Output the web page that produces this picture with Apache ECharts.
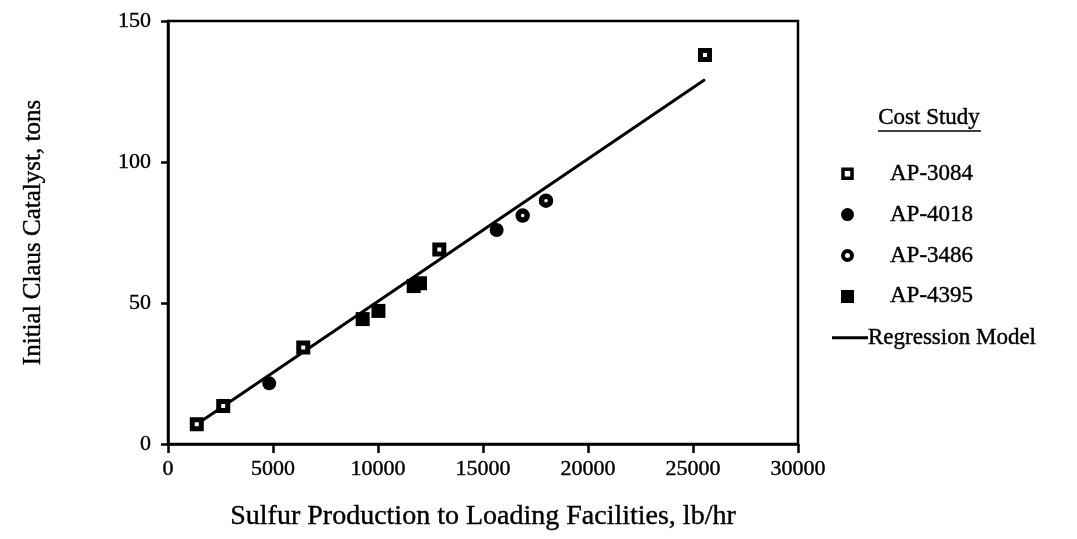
<!DOCTYPE html>
<html>
<head>
<meta charset="utf-8">
<script src="https://cdn.jsdelivr.net/npm/echarts@6/dist/echarts.min.js"></script>
<style>
  html, body { margin: 0; padding: 0; background: #fff; }
  #chart { width: 1077px; height: 539px; }
</style>
</head>
<body>
<div id="chart"></div>
<script>
// Cost study data points: [sulfur production lb/hr, initial catalyst tons]
const ap3084 = [[1370, 7.0], [2630, 13.5], [6440, 34.2], [12920, 69.0], [25570, 137.9]];
const ap4018 = [[4820, 21.5], [15650, 75.9]];
const ap3486 = [[16890, 81.0], [18000, 86.3]];
const ap4395 = [[9270, 44.3], [10020, 47.2], [11700, 56.0], [12000, 57.0]];
// Regression line end points
const regression = [[1370, 7.0], [25520, 129.0]];
const xTicks = [0, 5000, 10000, 15000, 20000, 25000, 30000];
const yTicks = [0, 50, 100, 150];

const FONT = 'Liberation Serif';
// a faint outline thickens the serif glyphs a little
const INK = { textBorderColor: '#000', textBorderWidth: 0.4 };

const chart = echarts.init(document.getElementById('chart'));

chart.setOption({
  animation: false,
  backgroundColor: '#fff',
  textStyle: { fontFamily: FONT, color: '#000' },
  grid: {
    left: 168, right: 279, top: 21, bottom: 95,
    show: true, borderColor: '#000', borderWidth: 2.5
  },
  xAxis: {
    type: 'value',
    min: xTicks[0], max: xTicks[xTicks.length - 1], interval: 5000,
    name: 'Sulfur Production to Loading Facilities, lb/hr',
    nameLocation: 'middle', nameGap: 59,
    nameTextStyle: Object.assign({ fontFamily: FONT, fontSize: 28, color: '#000' }, INK),
    axisLine: { lineStyle: { color: '#000', width: 2.5 } },
    axisTick: { inside: false, length: 9, lineStyle: { color: '#000', width: 2.5 } },
    axisLabel: Object.assign({
      fontFamily: FONT, fontSize: 22, color: '#000', margin: 14,
      formatter: v => String(v)
    }, INK),
    splitLine: { show: false }
  },
  yAxis: {
    type: 'value',
    min: yTicks[0], max: yTicks[yTicks.length - 1], interval: 50,
    name: 'Initial Claus Catalyst, tons',
    nameLocation: 'middle', nameGap: 122, nameRotate: 90,
    nameTextStyle: Object.assign({ fontFamily: FONT, fontSize: 25, color: '#000' }, INK),
    axisLine: { lineStyle: { color: '#000', width: 2.5 } },
    axisTick: { inside: false, length: 7, lineStyle: { color: '#000', width: 2.5 } },
    axisLabel: Object.assign({
      fontFamily: FONT, fontSize: 22, color: '#000', margin: 17,
      formatter: v => String(v)
    }, INK),
    splitLine: { show: false }
  },
  legend: [{
    orient: 'vertical', left: 836, top: 157,
    itemWidth: 9, itemHeight: 9, itemGap: 17.5,
    textStyle: Object.assign({ fontFamily: FONT, fontSize: 23, color: '#000', padding: [0, 0, 0, 33] }, INK),
    data: [
      { name: 'AP-3084', icon: 'rect', itemStyle: { color: '#fff', borderColor: '#000', borderWidth: 3.5 } },
      { name: 'AP-4018', icon: 'circle', itemStyle: { color: '#000', borderColor: '#000', borderWidth: 4 } },
      { name: 'AP-3486', icon: 'circle', itemStyle: { color: '#fff', borderColor: '#000', borderWidth: 4 } },
      { name: 'AP-4395', icon: 'rect', itemStyle: { color: '#000', borderColor: '#000', borderWidth: 4 } }
    ]
  }, {
    orient: 'vertical', left: 827, top: 321,
    itemWidth: 36, itemHeight: 3,
    textStyle: Object.assign({ fontFamily: FONT, fontSize: 23, color: '#000', padding: [0, 0, 0, -5] }, INK),
    data: [{ name: 'Regression Model', icon: 'rect' }]
  }],
  graphic: [{
    type: 'text', left: 878, top: 106,
    style: { text: 'Cost Study', fontFamily: FONT, fontSize: 23, fill: '#000', stroke: '#000', lineWidth: 0.4 }
  }, {
    type: 'line', shape: { x1: 878, y1: 131, x2: 981, y2: 131 },
    style: { stroke: '#000', lineWidth: 1.5 }
  }],
  series: [{
    name: 'AP-3084', type: 'scatter', data: ap3084,
    symbol: 'rect', symbolSize: 9,
    itemStyle: { color: '#fff', borderColor: '#000', borderWidth: 5, opacity: 1 }, z: 5
  }, {
    name: 'AP-4018', type: 'scatter', data: ap4018,
    symbol: 'circle', symbolSize: 14,
    itemStyle: { color: '#000', borderWidth: 0, opacity: 1 }, z: 5
  }, {
    name: 'AP-3486', type: 'scatter', data: ap3486,
    symbol: 'circle', symbolSize: 9,
    itemStyle: { color: '#fff', borderColor: '#000', borderWidth: 5.5, opacity: 1 }, z: 5
  }, {
    name: 'AP-4395', type: 'scatter', data: ap4395,
    symbol: 'rect', symbolSize: 14,
    itemStyle: { color: '#000', borderWidth: 0, opacity: 1 }, z: 5
  }, {
    name: 'Regression Model', type: 'line', data: regression,
    symbol: 'none', z: 3,
    lineStyle: { color: '#000', width: 3, cap: 'round' },
    itemStyle: { color: '#000' }
  }]
});
</script>
</body>
</html>
